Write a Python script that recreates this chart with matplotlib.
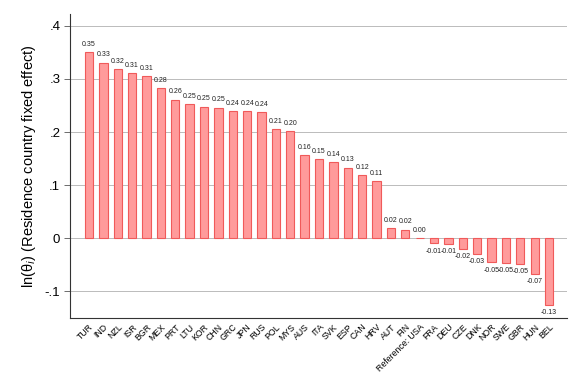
import matplotlib
matplotlib.use('Agg')
import matplotlib.pyplot as plt
import numpy as np

plt.rcParams['font.family'] = ['Liberation Sans', 'DejaVu Sans']

# residence country fixed effects
countries = ['TUR', 'IND', 'NZL', 'ISR', 'BGR', 'MEX', 'PRT', 'LTU', 'KOR', 'CHN', 'GRC',
             'JPN', 'RUS', 'POL', 'MYS', 'AUS', 'ITA', 'SVK', 'ESP', 'CAN', 'HRV', 'AUT',
             'FIN', 'Reference: USA', 'FRA', 'DEU', 'CZE', 'DNK', 'NOR', 'SWE', 'GBR',
             'HUN', 'BEL']
effects = [0.350, 0.331, 0.318, 0.311, 0.306, 0.283, 0.261, 0.253, 0.248, 0.246, 0.240,
           0.240, 0.238, 0.206, 0.201, 0.157, 0.149, 0.143, 0.133, 0.119, 0.108, 0.019,
           0.016, 0.0, -0.010, -0.011, -0.020, -0.030, -0.046, -0.047, -0.049,
           -0.067, -0.126]
yticks = [-0.1, 0, 0.1, 0.2, 0.3, 0.4]
ytick_labels = ['-.1', '0', '.1', '.2', '.3', '.4']

fig = plt.figure(figsize=(5.81, 3.88), dpi=100)
ax = fig.add_axes([0.1205, 0.180, 0.8555, 0.784])

x = np.arange(len(countries))
ax.bar(x, effects, width=0.58, color='#ff9b9b', edgecolor='#f05a5a', linewidth=0.8, zorder=3)

# value labels above / below bars
for xi, v in zip(x, effects):
    if v >= 0:
        ax.text(xi, v + 0.008, f'{v:.2f}', ha='center', va='bottom', fontsize=5, color='#222222')
    else:
        ax.text(xi, v - 0.008, f'{v:.2f}', ha='center', va='top', fontsize=5, color='#222222')

ax.set_xlim(-1.32, 33.25)
ax.set_ylim(-0.151, 0.4226)
ax.set_yticks(yticks)
ax.set_yticklabels(ytick_labels, fontsize=9.5)
ax.set_xticks(x)
ax.set_xticklabels(countries, rotation=45, ha='right', rotation_mode='anchor', fontsize=6.3)
ax.tick_params(axis='x', length=0, pad=3)
ax.tick_params(axis='y', length=4, width=0.6, color='#555555', pad=3)
ax.yaxis.grid(True, color='#bbbbbb', linewidth=0.7, zorder=0)
ax.set_axisbelow(True)

for side in ['top', 'right']:
    ax.spines[side].set_visible(False)
ax.spines['left'].set_color('#333333')
ax.spines['bottom'].set_color('#333333')
ax.spines['left'].set_linewidth(0.8)
ax.spines['bottom'].set_linewidth(0.8)

ax.set_ylabel('ln(θ$_{i}$) (Residence country fixed effect)', fontsize=10.5, labelpad=5)

fig.savefig('out.png', dpi=100, facecolor='white')
